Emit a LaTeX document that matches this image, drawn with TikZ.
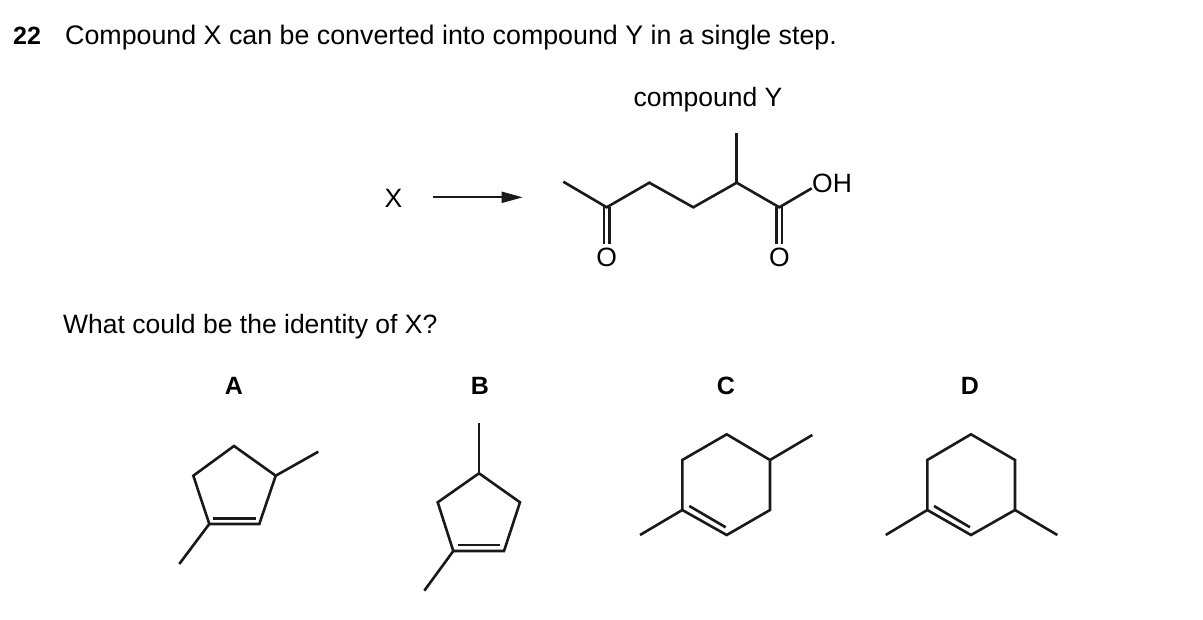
\documentclass[tikz,border=0pt]{standalone}
\usepackage{fontspec}
\setmainfont{Liberation Sans}
\usetikzlibrary{arrows.meta}
\begin{document}
\begin{tikzpicture}[x=1pt,y=-1pt,
  bond/.style={line width=2.6pt, line join=miter, draw=black!90},
  txt/.style={inner sep=0pt, font=\fontsize{26.5}{31}\selectfont},
  lab/.style={inner sep=0pt, font=\fontsize{25}{29}\selectfont\bfseries},
  arr/.style={line width=2pt, draw=black!90, -{Triangle[length=21pt,width=11pt]}}]
\useasboundingbox (0,0) rectangle (1203,619);

% ---- texts ----
\node[txt, anchor=base west, font=\fontsize{25}{30}\selectfont\bfseries] (num) at (13,44) {22};
\node[txt, anchor=base west, font=\fontsize{26.8}{31}\selectfont] (title) at (65,44) {Compound X can be converted into compound Y in a single step.};
\node[txt, anchor=base] (cY) at (708,106) {compound Y};
\node[txt, anchor=base] (X) at (393.5,207.3) {X};
\node[txt, anchor=base west] (q) at (63,333) {What could be the identity of X?};
\node[lab, anchor=base] (lA) at (234,394) {A};
\node[lab, anchor=base] (lB) at (480,394) {B};
\node[lab, anchor=base] (lC) at (726,394) {C};
\node[lab, anchor=base] (lD) at (970,394) {D};

% ---- arrow ----
\coordinate (aend) at (522.7,197.3);
\coordinate (astart) at (432.7,197.3);
\draw[arr] (astart) -- (aend);

% ---- compound Y ----
\coordinate (y1) at (563.3,181.7);
\coordinate (y2) at (606.7,207.3);
\coordinate (y3) at (649.3,182.7);
\coordinate (y4) at (693.3,207.3);
\coordinate (y5) at (736.7,182.7);
\coordinate (y5m) at (736.7,132.7);
\coordinate (y6) at (779.3,207.3);
\coordinate (ohb) at (811.7,188.3);
\coordinate (o1b) at (606.7,244.3);
\coordinate (o2b) at (779.3,244.3);
\node[txt, anchor=base west] (OH) at (812,192) {OH};
\node[txt] (O1) at (606.7,257.5) {O};
\node[txt] (O2) at (779.3,257.5) {O};
\draw[bond] (y1) -- (y2) -- (y3) -- (y4) -- (y5) -- (y6) -- (ohb);
\draw[bond] (y5) -- (y5m);
\draw[bond] ([xshift=-2.7pt]y2) -- ([xshift=-2.7pt]o1b);
\draw[bond] ([xshift=2.7pt]y2) -- ([xshift=2.7pt]o1b);
\draw[bond] ([xshift=-2.7pt]y6) -- ([xshift=-2.7pt]o2b);
\draw[bond] ([xshift=2.7pt]y6) -- ([xshift=2.7pt]o2b);

% ---- A ----
\coordinate (a1) at (234,446);
\coordinate (a2) at (275.7,475.7);
\coordinate (a3) at (259.3,524);
\coordinate (a4) at (209.3,524);
\coordinate (a5) at (193.3,475.7);
\coordinate (am1) at (318.3,451.7);
\coordinate (am2) at (179.3,564);
\coordinate (ai1) at (213.3,518.3);
\coordinate (ai2) at (256,518.3);
\draw[bond] (a1) -- (a2) -- (a3) -- (a4) -- (a5) -- cycle;
\draw[bond] (a2) -- (am1);
\draw[bond] (a4) -- (am2);
\draw[bond] (ai1) -- (ai2);

% ---- B ----
\coordinate (b1) at (479,473.3);
\coordinate (b2) at (520,502.3);
\coordinate (b3) at (504,551);
\coordinate (b4) at (453.3,551);
\coordinate (b5) at (437.7,502.3);
\coordinate (bm1) at (479,422.7);
\coordinate (bm2) at (424.3,590.7);
\coordinate (bi1) at (457.7,545);
\coordinate (bi2) at (500,545);
\draw[bond] (b1) -- (b2) -- (b3) -- (b4) -- (b5) -- cycle;
\draw[bond] (b1) -- (bm1);
\draw[bond] (b4) -- (bm2);
\draw[bond] (bi1) -- (bi2);

% ---- C ----
\coordinate (c1) at (726.7,434.3);
\coordinate (c2) at (770,460);
\coordinate (c3) at (770,510);
\coordinate (c4) at (726.7,535);
\coordinate (c5) at (682.3,510);
\coordinate (c6) at (682.3,460);
\coordinate (cm1) at (812.3,435);
\coordinate (cm2) at (640,535);
\coordinate (ci1) at (689.3,506);
\coordinate (ci2) at (725.7,527.3);
\draw[bond] (c1) -- (c2) -- (c3) -- (c4) -- (c5) -- (c6) -- cycle;
\draw[bond] (c2) -- (cm1);
\draw[bond] (c5) -- (cm2);
\draw[bond] (ci1) -- (ci2);

% ---- D ----
\coordinate (d1) at (971,434.3);
\coordinate (d2) at (1015,460);
\coordinate (d3) at (1015,510);
\coordinate (d4) at (971,535);
\coordinate (d5) at (927.3,510);
\coordinate (d6) at (927.3,460);
\coordinate (dm1) at (885.7,535);
\coordinate (dm2) at (1057.3,535);
\coordinate (di1) at (934,506);
\coordinate (di2) at (970,527.3);
\draw[bond] (d1) -- (d2) -- (d3) -- (d4) -- (d5) -- (d6) -- cycle;
\draw[bond] (d5) -- (dm1);
\draw[bond] (d3) -- (dm2);
\draw[bond] (di1) -- (di2);
\end{tikzpicture}
\end{document}
